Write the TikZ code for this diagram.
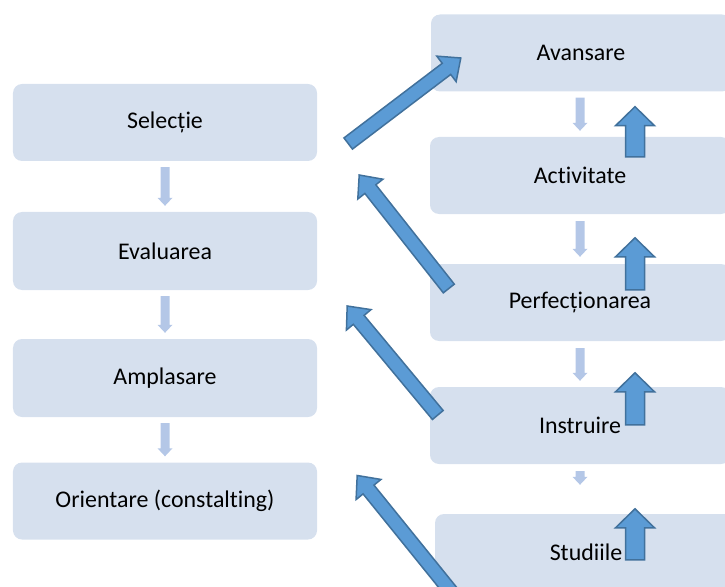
\documentclass[tikz,border=0pt]{standalone}
\usepackage{fontspec}
\setmainfont{Carlito}[Ligatures=NoCommon]
\usepackage{xcolor}
\usepackage{tikz}
\usetikzlibrary{positioning, calc}
\definecolor{boxfill}{RGB}{214,224,238}
\definecolor{flowblue}{RGB}{91,155,213}
\definecolor{flowedge}{RGB}{65,113,156}
\definecolor{steplight}{RGB}{180,199,231}
% block arrow: style, tail, tip, shaft half width, head half width, head length
\newcommand{\blockarrow}[6]{%
  \coordinate (headbase) at ($(#3)!#6!(#2)$);
  \draw[#1] ($(#2)!#4!90:(#3)$) -- ($(headbase)!#4!90:(#3)$) -- ($(headbase)!#5!90:(#3)$)
    -- (#3) -- ($(headbase)!#5!-90:(#3)$) -- ($(headbase)!#4!-90:(#3)$)
    -- ($(#2)!#4!-90:(#3)$) -- cycle;}
\tikzset{careerflow/.style={
    x=1bp, y=-1bp,
    stage/.style={rectangle, fill=boxfill, draw=none, rounded corners=9bp, minimum height=77bp, align=center, font=\fontsize{24}{29}\selectfont},
    leftstage/.style={stage, minimum width=304bp},
    rightstage/.style={stage, minimum width=300bp},
    steparrow/.style={fill=steplight, draw=none},
    bigarrow/.style={fill=flowblue, draw=flowedge, line width=1.5bp, line join=miter},
}}

\begin{document}
\begin{tikzpicture}[careerflow]
    \useasboundingbox (0,0) rectangle (725,587);
    \clip (0,0) rectangle (725,587);
    % left column
    \node[leftstage] (selectie) at (165,122.5) {Selecție};
    \node[leftstage, minimum height=78bp] (evaluarea) at (165,251) {Evaluarea};
    \node[leftstage, minimum height=78bp] (amplasare) at (165,378) {Amplasare};
    \node[leftstage] (orientare) at (165,501) {Orientare (constalting)};
    % right column
    \node[rightstage] (avansare) at (581,53) {Avansare};
    \node[rightstage] (activitate) at (580,175.5) {Activitate};
    \node[rightstage] (perfectionarea) at (580,302.5) {Perfecționarea};
    \node[rightstage] (instruire) at (580,425.5) {Instruire};
    \node[rightstage, minimum width=302bp] (studiile) at (586,552.5) {Studiile};

    % small arrows, left
    \coordinate (s1a) at ($(selectie.south)+(0,6)$);
    \coordinate (s1b) at ($(evaluarea.north)+(0,-6)$);
    \coordinate (s2a) at ($(evaluarea.south)+(0,6)$);
    \coordinate (s2b) at ($(amplasare.north)+(0,-6)$);
    \coordinate (s3a) at ($(amplasare.south)+(0,6)$);
    \coordinate (s3b) at ($(orientare.north)+(0,-6)$);
    \blockarrow{steparrow}{s1a}{s1b}{4.5bp}{7.5bp}{8bp}
    \blockarrow{steparrow}{s2a}{s2b}{4.5bp}{7.5bp}{8bp}
    \blockarrow{steparrow}{s3a}{s3b}{4.5bp}{7.5bp}{8bp}
    % small arrows, right
    \coordinate (r1a) at ($(avansare.south)+(-1,6)$);
    \coordinate (r1b) at ($(activitate.north)+(0,-6)$);
    \coordinate (r2a) at ($(activitate.south)+(0,7)$);
    \coordinate (r2b) at ($(perfectionarea.north)+(0,-7)$);
    \coordinate (r3a) at ($(perfectionarea.south)+(0,7)$);
    \coordinate (r3b) at ($(instruire.north)+(0,-6)$);
    \coordinate (r4a) at ($(instruire.south)+(0,7)$);
    \coordinate (r4b) at ($(studiile.north)+(-6,-29)$);
    \blockarrow{steparrow}{r1a}{r1b}{4.5bp}{7.5bp}{8bp}
    \blockarrow{steparrow}{r2a}{r2b}{4.5bp}{7.5bp}{8bp}
    \blockarrow{steparrow}{r3a}{r3b}{4.5bp}{7.5bp}{8bp}
    \blockarrow{steparrow}{r4a}{r4b}{4.5bp}{7.5bp}{8bp}

    % up arrows on the right
    \coordinate (u1a) at ($(activitate.north)+(55,20)$);
    \coordinate (u1b) at ($(avansare.south)+(54,15)$);
    \coordinate (u2a) at ($(perfectionarea.north)+(55,26)$);
    \coordinate (u2b) at ($(perfectionarea.north)+(55,-26)$);
    \coordinate (u3a) at ($(instruire.north)+(55,38)$);
    \coordinate (u3b) at ($(instruire.north)+(55,-14)$);
    \coordinate (u4a) at ($(studiile.north)+(49,46)$);
    \coordinate (u4b) at ($(studiile.north)+(49,-5)$);
    \blockarrow{bigarrow}{u1a}{u1b}{9.5bp}{19.5bp}{19bp}
    \blockarrow{bigarrow}{u2a}{u2b}{9.5bp}{19.5bp}{19bp}
    \blockarrow{bigarrow}{u3a}{u3b}{9.5bp}{19.5bp}{19bp}
    \blockarrow{bigarrow}{u4a}{u4b}{9.5bp}{19.5bp}{19bp}

    % diagonal arrows between the columns
    \coordinate (d1a) at ($(selectie.east)+(31,21)$);
    \coordinate (d1b) at ($(avansare.west)+(30,5)$);
    \coordinate (d2a) at ($(perfectionarea.west)+(19,-14)$);
    \coordinate (d2b) at ($(selectie.east)+(42,52.5)$);
    \coordinate (d3a) at ($(instruire.west)+(8,-10.5)$);
    \coordinate (d3b) at ($(evaluarea.east)+(30,55)$);
    \coordinate (d4a) at ($(studiile.west)+(17,40)$);
    \coordinate (d4b) at ($(orientare.east)+(40,-25.5)$);
    \blockarrow{bigarrow}{d1a}{d1b}{7bp}{16bp}{18bp}
    \blockarrow{bigarrow}{d2a}{d2b}{7bp}{16bp}{18bp}
    \blockarrow{bigarrow}{d3a}{d3b}{7bp}{16bp}{18bp}
    \blockarrow{bigarrow}{d4a}{d4b}{7bp}{16bp}{18bp}
\end{tikzpicture}
\end{document}
